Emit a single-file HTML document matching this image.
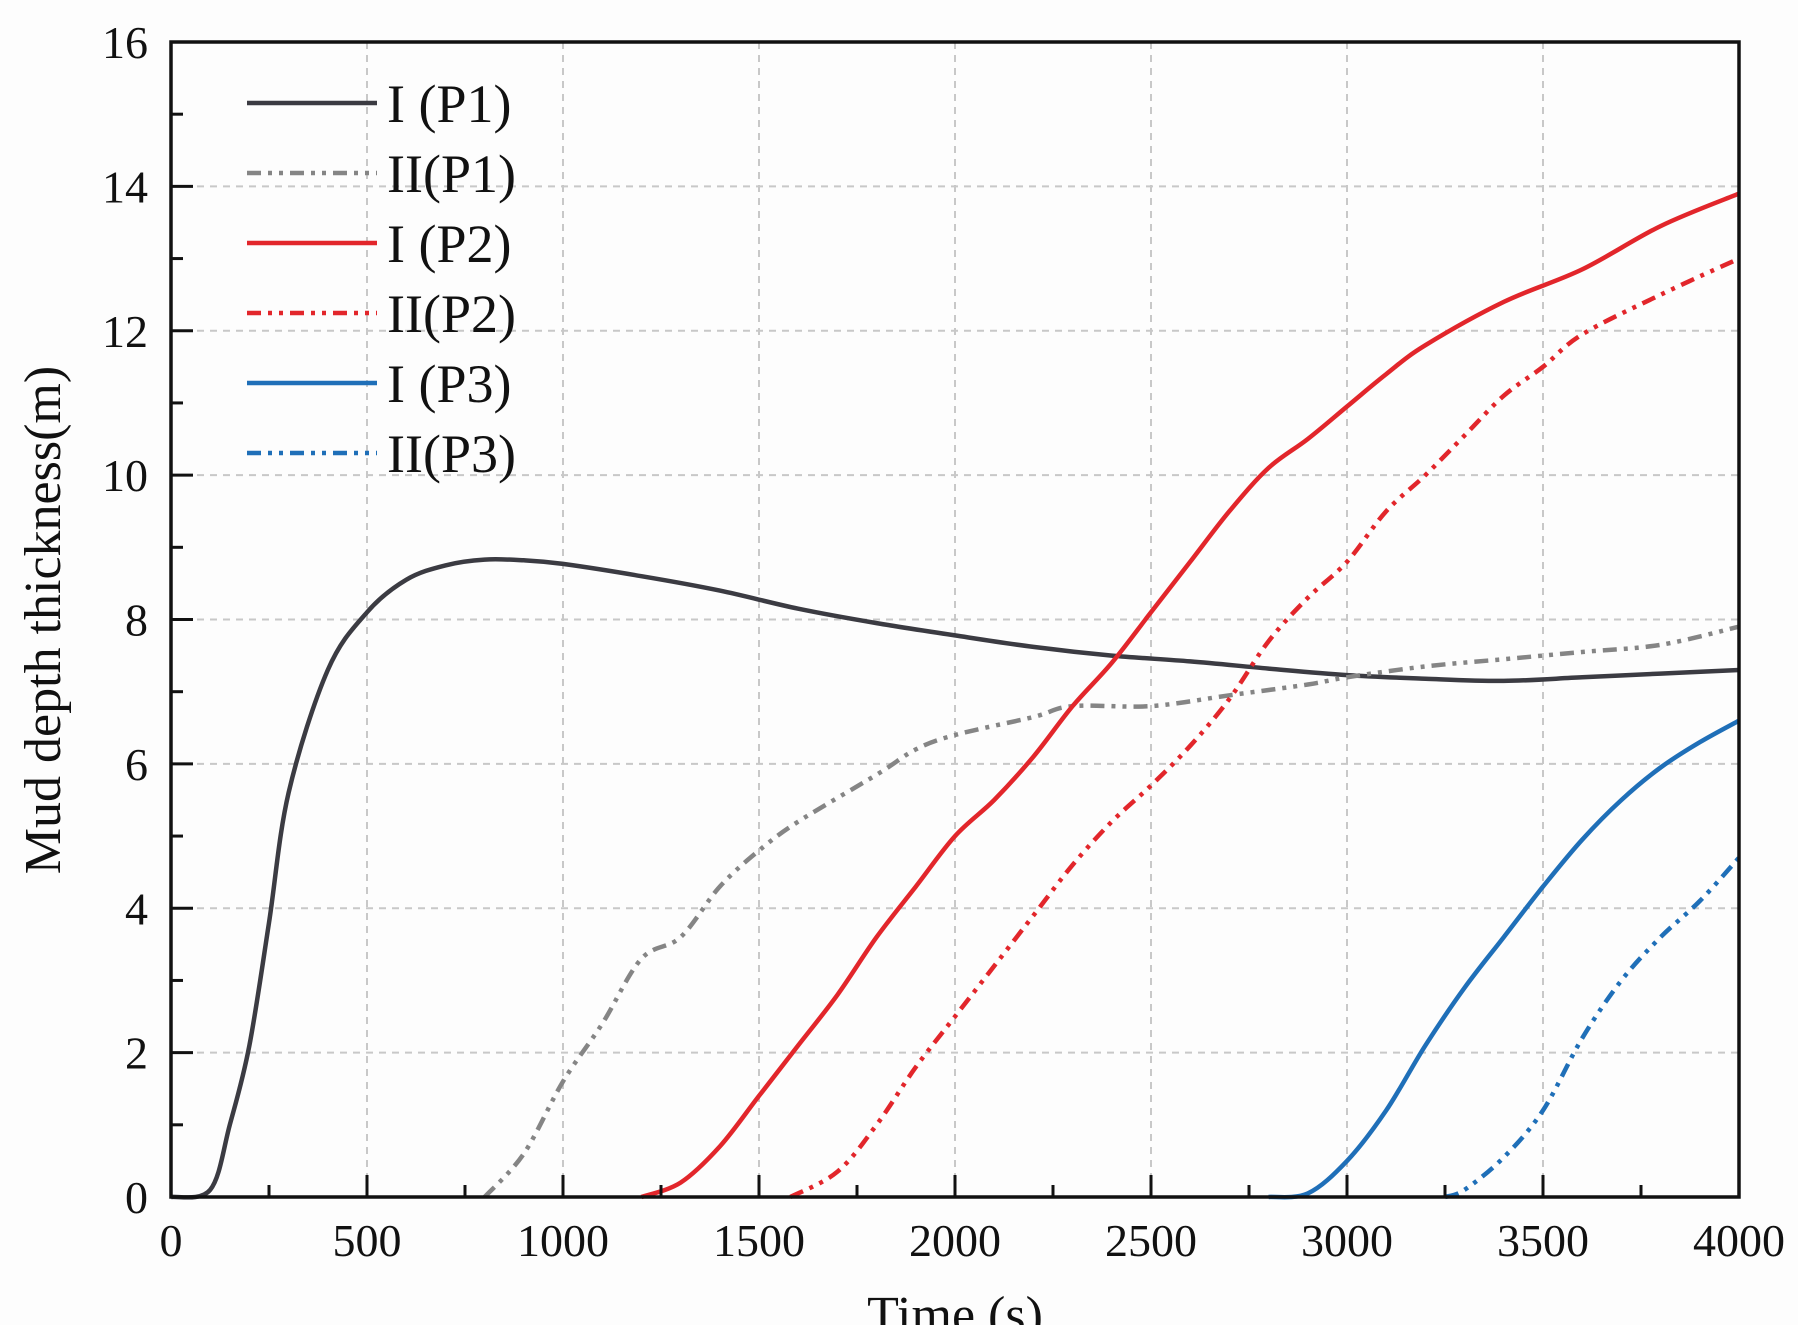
<!DOCTYPE html>
<html><head><meta charset="utf-8">
<style>
html,body{margin:0;padding:0;background:#fdfdfd;}
svg{display:block;font-family:"Liberation Serif",serif;}
</style></head>
<body>
<svg id="chart" width="1798" height="1325" viewBox="0 0 1798 1325" xmlns="http://www.w3.org/2000/svg">
<rect width="1798" height="1325" fill="#fdfdfd"/>
<g id="grid"></g>
<g id="series"></g>
<rect x="171" y="42" width="1568" height="1155" fill="none" stroke="#111" stroke-width="3.5"/>
<g id="ticks"></g>
<g id="legend"></g>
<text x="60" y="620" font-size="52" text-anchor="middle" transform="rotate(-90 60 620)" fill="#111">Mud depth thickness(m)</text>
<text x="955" y="1332" font-size="52" text-anchor="middle" fill="#111">Time (s)</text>
</svg>
<script>
const xTicks = [0,500,1000,1500,2000,2500,3000,3500,4000];
const yTicks = [0,2,4,6,8,10,12,14,16];
const seriesNames = ["I (P1)","II(P1)","I (P2)","II(P2)","I (P3)","II(P3)"];
const p1I_x = [0,100,150,200,250,300,400,500,600,700,800,900,1000,1200,1400,1600,1800,2000,2200,2400,2600,2800,3000,3200,3400,3600,3800,4000];
const p1I_y = [0,0.1,1,2.1,3.8,5.6,7.3,8.1,8.55,8.75,8.83,8.82,8.77,8.6,8.4,8.15,7.95,7.78,7.62,7.5,7.42,7.32,7.23,7.18,7.15,7.2,7.25,7.3];
const p1II_x = [800,900,1000,1100,1200,1300,1400,1500,1600,1800,1900,2000,2200,2300,2500,2700,2900,3000,3200,3400,3600,3800,4000];
const p1II_y = [0,0.6,1.6,2.4,3.3,3.6,4.3,4.8,5.2,5.85,6.2,6.4,6.65,6.8,6.8,6.95,7.1,7.2,7.35,7.45,7.55,7.65,7.9];
const p2I_x = [1200,1300,1400,1500,1600,1700,1800,1900,2000,2100,2200,2300,2400,2500,2600,2700,2800,2900,3000,3100,3200,3400,3600,3800,4000];
const p2I_y = [0,0.2,0.7,1.4,2.1,2.8,3.6,4.3,5.0,5.5,6.1,6.8,7.4,8.1,8.8,9.5,10.1,10.5,10.95,11.4,11.8,12.4,12.85,13.45,13.9];
const p2II_x = [1580,1700,1800,1900,2000,2100,2200,2300,2400,2500,2600,2700,2800,2900,3000,3100,3200,3300,3400,3500,3600,3800,4000];
const p2II_y = [0,0.35,1.0,1.8,2.5,3.2,3.9,4.6,5.2,5.7,6.25,6.9,7.7,8.3,8.8,9.5,10.0,10.55,11.1,11.5,11.95,12.5,13.0];
const p3I_x = [2800,2900,3000,3100,3200,3300,3400,3500,3600,3700,3800,3900,4000];
const p3I_y = [0,0.05,0.5,1.2,2.1,2.9,3.6,4.3,4.95,5.5,5.95,6.3,6.6];
const p3II_x = [3250,3300,3400,3500,3600,3700,3800,3900,4000];
const p3II_y = [0,0.1,0.55,1.2,2.2,3.0,3.6,4.1,4.7];

const NS="http://www.w3.org/2000/svg";
const X0=171,X1=1739,Y0=1197,Y1=42;
const sx=v=>X0+(v-0)/(4000-0)*(X1-X0);
const sy=v=>Y0-(v-0)/(16-0)*(Y0-Y1);
function mk(t,a,p){const e=document.createElementNS(NS,t);for(const k in a)e.setAttribute(k,a[k]);p.appendChild(e);return e;}
function smooth(pts){
  let d='M'+pts[0][0].toFixed(1)+','+pts[0][1].toFixed(1);
  for(let i=0;i<pts.length-1;i++){
    const p0=pts[i-1]||pts[i],p1=pts[i],p2=pts[i+1],p3=pts[i+2]||p2;
    const c1=[p1[0]+(p2[0]-p0[0])/6,p1[1]+(p2[1]-p0[1])/6];
    const c2=[p2[0]-(p3[0]-p1[0])/6,p2[1]-(p3[1]-p1[1])/6];
    d+=' C'+c1.map(v=>v.toFixed(1)).join(',')+' '+c2.map(v=>v.toFixed(1)).join(',')+' '+p2.map(v=>v.toFixed(1)).join(',');
  }
  return d;
}
const grid=document.getElementById('grid'),ticks=document.getElementById('ticks'),ser=document.getElementById('series'),leg=document.getElementById('legend');
xTicks.forEach((t,i)=>{
  const x=sx(t);
  if(i>0&&i<xTicks.length-1){const g=mk('line',{x1:x,x2:x,y1:Y1,y2:Y0,stroke:'#c8c8c8','stroke-width':2,'stroke-dasharray':'7 6'},grid);
  
  }
  const tk=mk('line',{x1:x,x2:x,y1:Y0,y2:Y0-22,stroke:'#111','stroke-width':3},ticks);
  
  
  if(i<xTicks.length-1){const m=mk('line',{x1:sx(t+250),x2:sx(t+250),y1:Y0,y2:Y0-12,stroke:'#111','stroke-width':3},ticks);
  
  }
  const lb=mk('text',{x:x,y:1256,'font-size':46,'text-anchor':'middle',fill:'#111'},ticks);lb.textContent=t;
  
  
});
yTicks.forEach((t,i)=>{
  const y=sy(t);
  if(i>0&&i<yTicks.length-1){const g=mk('line',{x1:X0,x2:X1,y1:y,y2:y,stroke:'#c8c8c8','stroke-width':2,'stroke-dasharray':'7 6'},grid);
  
  }
  const tk=mk('line',{x1:X0,x2:X0+22,y1:y,y2:y,stroke:'#111','stroke-width':3},ticks);
  
  
  if(i<yTicks.length-1){const m=mk('line',{x1:X0,x2:X0+12,y1:sy(t+1),y2:sy(t+1),stroke:'#111','stroke-width':3},ticks);
  
  }
  const lb=mk('text',{x:148,y:y+16,'font-size':46,'text-anchor':'end',fill:'#111'},ticks);lb.textContent=t;
  
  
});
const DASH='14 7 4 7 4 7';
const cfg=[[p1I_x,p1I_y,'#3b3b42',null],[p1II_x,p1II_y,'#858585',DASH],[p2I_x,p2I_y,'#e2262b',null],[p2II_x,p2II_y,'#e2262b',DASH],[p3I_x,p3I_y,'#1f6fb8',null],[p3II_x,p3II_y,'#1f6fb8',DASH]];
cfg.forEach((c,i)=>{
  const pts=c[0].map((x,j)=>[sx(x),sy(c[1][j])]);
  const a={d:smooth(pts),fill:'none',stroke:c[2],'stroke-width':4.5,'stroke-linejoin':'round'};
  if(c[3])a['stroke-dasharray']=c[3];
  const p=mk('path',a,ser);
  
  
  const ly=103+i*70;
  const la={x1:247,x2:377,y1:ly,y2:ly,stroke:c[2],'stroke-width':4.5};
  if(c[3])la['stroke-dasharray']=c[3];
  const l=mk('line',la,leg);
  
  
  const t=mk('text',{x:387,y:ly+19,'font-size':54,fill:'#111'},leg);t.textContent=seriesNames[i];
  
  
});
</script>
</body></html>
